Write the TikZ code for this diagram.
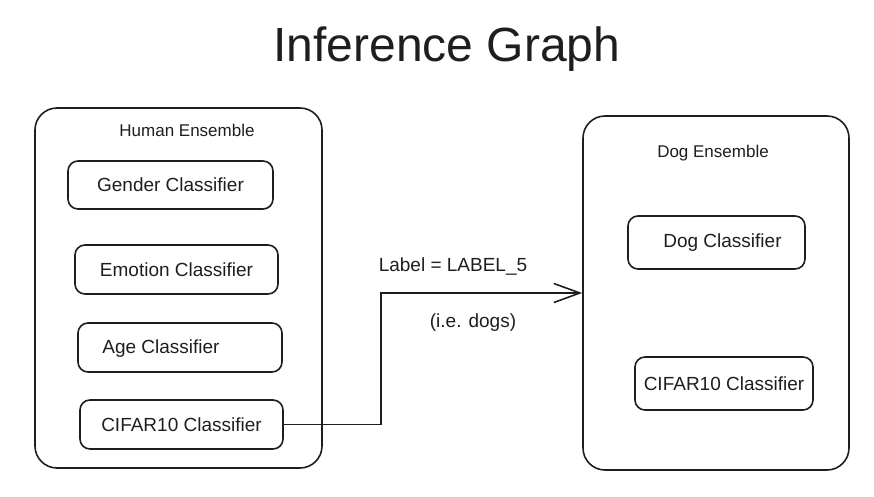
\documentclass[tikz,border=0pt]{standalone}
\usepackage{fontspec}
\setmainfont{Liberation Sans}
\usetikzlibrary{arrows.meta}
\definecolor{ink}{HTML}{1E1E1E}
\tikzset{
  ensbox/.style={draw=ink, line width=1.6pt, rounded corners=22pt, inner sep=0pt},
  clsbox/.style={draw=ink, line width=1.6pt, rounded corners=10pt, inner sep=0pt, font=\fontsize{19}{22}\selectfont, text=ink},
  enstitle/.style={font=\fontsize{17}{20}\selectfont, text=ink, inner sep=0pt},
  lbl/.style={font=\fontsize{19}{22}\selectfont, text=ink, inner sep=0pt},
  conn/.style={draw=ink, line width=1.8pt, -{Straight Barb[length=26pt,width=19pt,line width=1.6pt]}}
}
\begin{document}
\begin{tikzpicture}[x=1pt,y=-1pt]
\useasboundingbox (0,0) rectangle (874,497);
\node[font=\fontsize{48}{56}\selectfont, text=ink, anchor=base, inner sep=0pt] (title) at (447,62) {Inference Graph};

\node[ensbox, minimum width=287pt, minimum height=360pt] (humanens) at (178.5,288) {};
\node[enstitle] (humantitle) at (187,130) {Human Ensemble};
\node[clsbox, minimum width=205pt, minimum height=48pt] (gender) at (170.5,185) {Gender Classifier};
\node[clsbox, minimum width=203pt, minimum height=49pt] (emotion) at (176.5,269.5) {Emotion Classifier};
\node[clsbox, minimum width=204pt, minimum height=49pt, label={[lbl, xshift=-19pt, yshift=-1pt]center:Age Classifier}] (age) at (180,347.5) {};
\node[clsbox, minimum width=203pt, minimum height=49pt] (cifarL) at (181.5,424.5) {CIFAR10 Classifier};

\node[ensbox, minimum width=266pt, minimum height=354pt] (dogens) at (716,293) {};
\node[enstitle] (dogtitle) at (713,153) {Dog Ensemble};
\node[clsbox, minimum width=177pt, minimum height=53pt, label={[lbl, xshift=6pt]center:Dog Classifier}] (dogcls) at (716.5,242.5) {};
\node[clsbox, minimum width=178pt, minimum height=53pt] (cifarR) at (724,383.5) {CIFAR10 Classifier};

\draw[conn] (cifarL.east) -- ++(97,0) |- (dogens.west);
\node[lbl] (lab1) at (453,267) {Label = LABEL\_5};
\node[lbl] (lab2) at (473,323) {(i.e. dogs)};
\end{tikzpicture}
\end{document}
